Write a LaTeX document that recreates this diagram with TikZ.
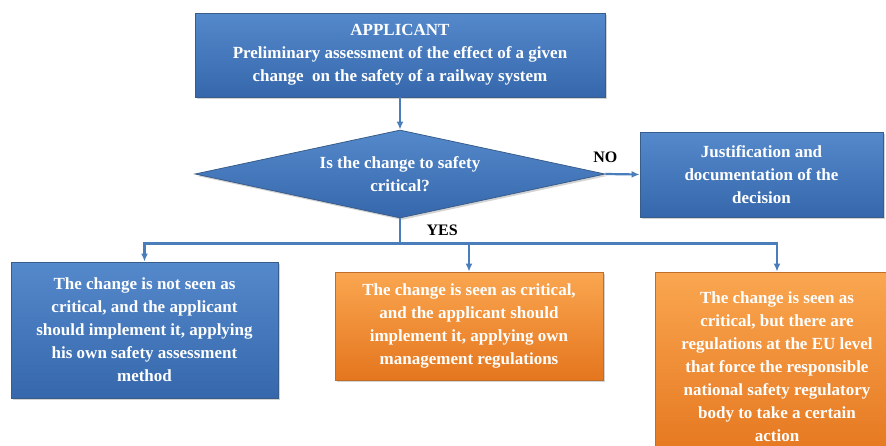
\documentclass[tikz,border=0pt]{standalone}
\usepackage{fontspec}
\setmainfont{Liberation Serif}
\usetikzlibrary{shapes.geometric,shadows,positioning,arrows.meta}

\definecolor{bluetop}{RGB}{84,137,203}
\definecolor{bluebot}{RGB}{54,103,172}
\definecolor{blueedge}{RGB}{56,93,138}
\definecolor{orangetop}{RGB}{250,166,80}
\definecolor{orangebot}{RGB}{228,118,30}
\definecolor{orangeedge}{RGB}{190,110,40}
\definecolor{connblue}{RGB}{74,126,187}

\newcommand{\boxfont}{\fontsize{17}{23}\selectfont\bfseries}

\tikzset{
  boxbase/.style={line width=0.8pt, text=white, font=\boxfont, align=center,
    inner sep=0pt, drop shadow={opacity=0.35, shadow xshift=2pt, shadow yshift=-2pt}},
  bluebox/.style={boxbase, draw=blueedge, top color=bluetop, bottom color=bluebot},
  orangebox/.style={boxbase, draw=orangeedge, top color=orangetop, bottom color=orangebot},
  decision/.style={bluebox, diamond, aspect=4.67},
  conn/.style={draw=connblue, line width=2.2pt, -{Latex[length=8pt,width=7pt]}},
  answer/.style={font=\fontsize{16}{20}\selectfont\bfseries, text=black}
}

\begin{document}
\begin{tikzpicture}[x=1pt, y=-1pt]
	\useasboundingbox (0,0) rectangle (886,445);
	\clip (0,0) rectangle (886,445);
	% applicant and question
	\node[bluebox, minimum width=410pt, minimum height=84pt] (app) at (400,55)
		{APPLICANT\\Preliminary assessment of the effect of a given\\change\ \ on the safety of a railway system};
	\node[decision, minimum width=410pt, minimum height=88pt] (dia) at (400,174)
		{Is the change to safety\\critical?};
	\node[bluebox, minimum width=243pt, minimum height=85pt] (just) at (761.5,174.5)
		{Justification and\\documentation of the\\decision};
	% outcomes
	\node[bluebox, minimum width=267pt, minimum height=136pt] (notcrit) at (144.5,330)
		{The change is not seen as\\critical, and the applicant\\should implement it, applying\\his own safety assessment\\method};
	\node[orangebox, minimum width=268pt, minimum height=108pt] (owncrit) at (469,326)
		{The change is seen as critical,\\and the applicant should\\implement it, applying own\\management regulations};
	\node[orangebox, minimum width=244pt, minimum height=190pt] (eucrit) at (777,367)
		{The change is seen as\\critical, but there are\\regulations at the EU level\\that force the responsible\\national safety regulatory\\body to take a certain\\action};
	% connectors
	\coordinate (split) at ([yshift=-25pt]dia.south);
	\draw[conn] (app) -- (dia);
	\draw[conn] (dia.east) -- (just.west);
	\draw[conn] (dia.south) -- (split) -| (notcrit.north);
	\draw[conn] (split) -| (owncrit.north);
	\draw[conn] (split) -| (eucrit.north);
	\node[answer, above=8pt of dia.east] (no) {NO};
	\node[answer, anchor=west] (yes) at (423,230) {YES};
\end{tikzpicture}
\end{document}
